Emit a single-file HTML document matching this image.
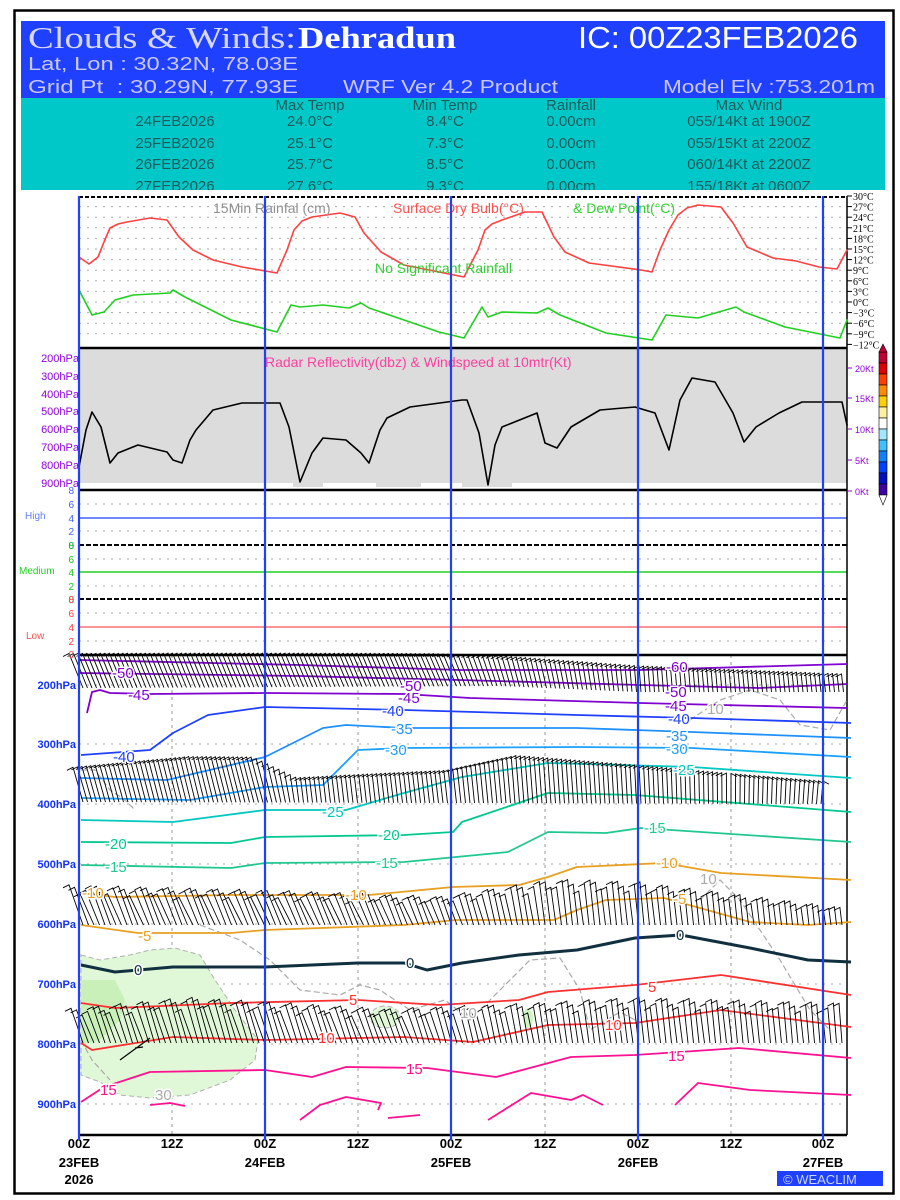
<!DOCTYPE html>
<html><head><meta charset="utf-8"><style>
html,body{margin:0;padding:0;background:#fff;}
svg{display:block;}
text{font-family:"Liberation Sans",sans-serif;}
.lb{paint-order:stroke;stroke:#fff;stroke-width:3px;}
</style></head><body>
<svg id="s" width="900" height="1200" viewBox="0 0 900 1200" xmlns="http://www.w3.org/2000/svg">
<rect x="0" y="0" width="900" height="1200" fill="#fff"/>
<rect x="14.5" y="10.5" width="879" height="1183" fill="none" stroke="#000" stroke-width="2.5"/>
<rect x="21" y="21" width="864" height="77" fill="#2040ff"/>
<rect x="21" y="98" width="864" height="92" fill="#00c8c8"/>
<text x="28" y="48" font-size="31" fill="#d8d8ff" style="font-family:'Liberation Serif',serif" textLength="268" lengthAdjust="spacingAndGlyphs">Clouds &amp; Winds:</text>
<text x="298" y="48" font-size="31" fill="#fff" font-weight="bold" style="font-family:'Liberation Serif',serif" textLength="158" lengthAdjust="spacingAndGlyphs">Dehradun</text>
<text x="578" y="48" font-size="31" fill="#fff" textLength="280" lengthAdjust="spacingAndGlyphs">IC: 00Z23FEB2026</text>
<text x="28" y="70" font-size="18" fill="#c8c8ff" textLength="270" lengthAdjust="spacingAndGlyphs">Lat, Lon : 30.32N, 78.03E</text>
<text x="28" y="93" font-size="18" fill="#c8c8ff" textLength="270" lengthAdjust="spacingAndGlyphs">Grid Pt&#160;&#160;: 30.29N, 77.93E</text>
<text x="343" y="93" font-size="18" fill="#c8c8ff" textLength="215" lengthAdjust="spacingAndGlyphs">WRF Ver 4.2 Product</text>
<text x="663" y="93" font-size="18" fill="#c8c8ff" textLength="212" lengthAdjust="spacingAndGlyphs">Model Elv :753.201m</text>
<g font-size="15" fill="#1e5a5a" text-anchor="middle">
<text x="310" y="110">Max Temp</text><text x="445" y="110">Min Temp</text><text x="571" y="110">Rainfall</text><text x="749" y="110">Max Wind</text>
<text x="175" y="126">24FEB2026</text><text x="310" y="126">24.0°C</text><text x="445" y="126">8.4°C</text><text x="571" y="126">0.00cm</text><text x="749" y="126">055/14Kt at 1900Z</text>
<text x="175" y="148">25FEB2026</text><text x="310" y="148">25.1°C</text><text x="445" y="148">7.3°C</text><text x="571" y="148">0.00cm</text><text x="749" y="148">055/15Kt at 2200Z</text>
<text x="175" y="169">26FEB2026</text><text x="310" y="169">25.7°C</text><text x="445" y="169">8.5°C</text><text x="571" y="169">0.00cm</text><text x="749" y="169">060/14Kt at 2200Z</text>
<text x="175" y="191">27FEB2026</text><text x="310" y="191">27.6°C</text><text x="445" y="191">9.3°C</text><text x="571" y="191">0.00cm</text><text x="749" y="191">155/18Kt at 0600Z</text>
</g>
<rect x="21" y="190" width="864" height="5" fill="#fff"/>
<g id="grid"></g>
<rect x="79" y="348" width="768" height="135" fill="#dcdcdc"/>
<rect x="293" y="483" width="30" height="4" fill="#dcdcdc"/>
<rect x="376" y="483" width="45" height="4" fill="#dcdcdc"/>
<rect x="462" y="483" width="50" height="4" fill="#dcdcdc"/>
<g id="dyn"></g>
<g fill="none" stroke-linejoin="round" stroke-linecap="round">
<polyline stroke="#ff4040" stroke-width="1.6" points="79,257 89,264 98,257 104,242 110,228 118,224 127,222 150,218 167,220 179,237 193,250 213,260 242,267 277,273 287,250 294,230 302,221 312,217 340,213 355,217 364,233 381,252 404,265 439,272 464,277 478,250 485,230 492,224 502,220 525,212 542,212 554,237 565,252 589,263 641,270 652,272 660,250 669,230 678,215 687,208 698,205 721,207 733,223 747,247 773,258 796,261 819,267 837,269 847,250"/>
<polyline stroke="#20d020" stroke-width="1.6" points="79,290 92,315 104,312 115,300 133,295 170,293 173,290 185,297 231,320 277,332 291,305 300,307 323,305 349,308 361,303 369,308 404,320 439,332 464,338 482,307 488,317 502,312 537,313 548,308 560,315 606,333 652,340 666,315 698,318 736,307 744,312 785,327 840,338 847,320"/>
<polyline stroke="#000" stroke-width="1.6" points="79,467 86,430 92,412 101,427 110,463 118,453 138,445 167,452 173,460 182,463 190,440 196,430 213,410 242,403 280,403 289,427 300,482 312,453 323,438 346,440 361,453 369,463 380,430 387,418 410,407 462,400 467,400 479,433 488,485 495,445 502,427 537,413 545,443 557,448 571,427 600,410 635,407 655,413 669,450 680,400 692,378 715,382 733,413 744,442 756,427 779,413 802,402 842,402 847,425"/>
</g>
<g font-size="14">
<text x="213" y="213" fill="#909090">15Min Rainfal (cm)</text>
<text x="393" y="213" fill="#ff5050">Surface Dry Bulb(°C)</text>
<text x="573" y="213" fill="#30d030">&amp; Dew Point(°C)</text>
<text x="375" y="273" fill="#30d030">No Significant Rainfall</text>
<text x="265" y="367" fill="#ff40a0">Radar Reflectivity(dbz) &amp; Windspeed at 10mtr(Kt)</text>
</g>
<path d="M81,955 L100,960 130,955 150,950 175,948 200,955 215,980 235,1010 258,1040 255,1060 230,1080 190,1095 150,1098 120,1095 100,1082 81,1075Z" fill="#e0f8d8" stroke="#b0b0b0" stroke-dasharray="5,3"/>
<path d="M81,980 L115,980 125,1000 120,1020 100,1040 81,1045Z" fill="#c8f0b8"/>
<ellipse cx="385" cy="1017" rx="15" ry="11" fill="#e0f8d8" stroke="#b0b0b0" stroke-dasharray="5,3"/>
<ellipse cx="528" cy="1018" rx="5" ry="10" fill="#d0f4c4"/>
<g fill="none" stroke="#aaa" stroke-width="1.2" stroke-dasharray="6,3">
<path d="M81,1040 L92,1060 110,1080"/>
<path d="M200,925 L240,940 270,960 300,990 340,995 360,985 380,990 410,1010 445,1000 470,1020 500,990 530,960 560,958 580,990 590,1030 620,1012 635,1020"/>
<path d="M700,900 L720,880 740,900 760,930 780,960 810,1010 830,1030"/>
<path d="M690,720 L720,700 750,690 780,700 800,725 830,730 847,700"/>
<path d="M81,770 L95,770 110,790 125,800 135,810"/>
</g>
<g fill="none" stroke-linejoin="round" stroke-width="1.8">
<polyline stroke="#8000d0" points="79,660 300,665 460,670 640,670 847,664"/>
<polyline stroke="#8000d0" points="79,673 300,676 460,680 640,685 760,688 847,684"/>
<polyline stroke="#8000d0" points="87,713 92,692 100,690 110,693 150,694 265,693 404,694 470,698 640,703 847,708"/>
<polyline stroke="#2040ff" points="81,755 150,750 173,733 208,715 265,707 404,710 577,715 692,718 851,723"/>
<polyline stroke="#1e90ff" points="81,778 167,780 265,757 323,728 346,725 404,728 577,728 692,732 851,738"/>
<polyline stroke="#1aa0ff" points="81,798 190,800 265,787 323,785 358,750 404,748 577,747 692,748 851,757"/>
<polyline stroke="#00c8c0" points="81,820 173,822 265,810 346,810 404,793 462,777 548,763 692,767 851,778"/>
<polyline stroke="#00c890" points="81,842 231,843 265,837 404,835 453,832 462,822 548,793 635,795 851,812"/>
<polyline stroke="#20c890" points="81,865 231,868 265,863 404,862 508,852 548,832 606,833 641,828 851,842"/>
<polyline stroke="#e8a020" points="81,893 115,897 231,895 369,895 453,887 519,885 548,877 577,867 664,863 721,873 851,880"/>
<polyline stroke="#e8a020" points="81,925 138,933 231,933 265,930 404,925 456,920 554,920 577,910 606,900 664,898 750,922 808,925 851,922"/>
<polyline stroke="#103040" stroke-width="3" points="81,965 115,972 173,967 265,967 358,963 404,963 427,970 462,963 519,955 577,950 635,938 681,935 750,948 808,960 851,962"/>
<polyline stroke="#ff3030" points="81,1003 115,1008 231,1003 358,1000 439,1005 519,1000 548,992 635,985 721,975 851,995"/>
<polyline stroke="#ff3030" points="81,1043 92,1050 173,1037 265,1040 404,1037 473,1042 548,1025 635,1023 721,1010 851,1027"/>
<polyline stroke="#ff1090" points="81,1102 104,1087 150,1072 265,1070 312,1077 346,1067 427,1068 496,1077 571,1057 635,1055 739,1048 851,1058"/>
<polyline stroke="#ff1090" points="300,1120 320,1105 346,1097 381,1103 378,1110"/>
<polyline stroke="#ff1090" points="488,1120 531,1093 571,1100 583,1095 603,1105"/>
<polyline stroke="#ff1090" points="675,1105 698,1083 750,1090 851,1095"/>
<polyline stroke="#ff1090" points="388,1118 420,1115"/>
<polyline stroke="#ff1090" points="150,1105 170,1103 185,1106"/>
</g>
<g id="barbs"></g>
<g font-size="15" class="lb">
<text x="112" y="678" fill="#8000d0">-50</text>
<text x="400" y="691" fill="#8000d0">-50</text>
<text x="666" y="672" fill="#8000d0">-60</text>
<text x="665" y="697" fill="#8000d0">-50</text>
<text x="128" y="700" fill="#8000d0">-45</text>
<text x="398" y="703" fill="#8000d0">-45</text>
<text x="665" y="711" fill="#8000d0">-45</text>
<text x="113" y="762" fill="#2040ff">-40</text>
<text x="382" y="716" fill="#2040ff">-40</text>
<text x="668" y="724" fill="#2040ff">-40</text>
<text x="391" y="734" fill="#1e90ff">-35</text>
<text x="666" y="741" fill="#1e90ff">-35</text>
<text x="385" y="755" fill="#1aa0ff">-30</text>
<text x="666" y="754" fill="#1aa0ff">-30</text>
<text x="322" y="817" fill="#00c8c0">-25</text>
<text x="673" y="775" fill="#00c8c0">-25</text>
<text x="105" y="849" fill="#00c890">-20</text>
<text x="378" y="840" fill="#00c890">-20</text>
<text x="105" y="872" fill="#20c890">-15</text>
<text x="376" y="868" fill="#20c890">-15</text>
<text x="644" y="833" fill="#20c890">-15</text>
<text x="82" y="898" fill="#e8a020">-10</text>
<text x="345" y="900" fill="#e8a020">-10</text>
<text x="656" y="868" fill="#e8a020">-10</text>
<text x="138" y="941" fill="#e8a020">-5</text>
<text x="673" y="904" fill="#e8a020">-5</text>
<text x="134" y="975" fill="#103040">0</text>
<text x="406" y="968" fill="#103040">0</text>
<text x="676" y="940" fill="#103040">0</text>
<text x="349" y="1005" fill="#ff3030">5</text>
<text x="648" y="992" fill="#ff3030">5</text>
<text x="318" y="1043" fill="#ff3030">10</text>
<text x="605" y="1030" fill="#ff3030">10</text>
<text x="100" y="1095" fill="#ff1090">15</text>
<text x="406" y="1074" fill="#ff1090">15</text>
<text x="668" y="1061" fill="#ff1090">15</text>
<text x="155" y="1100" fill="#aaa">30</text>
<text x="700" y="884" fill="#aaa">10</text>
<text x="707" y="714" fill="#aaa">10</text>
<text x="460" y="1018" fill="#aaa">10</text>
</g>
<g id="cb"></g>
<g font-size="9" fill="#9000e0">
<text x="855" y="372">20Kt</text><text x="855" y="402">15Kt</text><text x="855" y="433">10Kt</text><text x="855" y="464">5Kt</text><text x="855" y="495">0Kt</text>
</g>
<g font-size="11" fill="#9000e0" text-anchor="end">
<text x="79" y="362">200hPa</text><text x="79" y="380">300hPa</text><text x="79" y="398">400hPa</text><text x="79" y="415">500hPa</text><text x="79" y="433">600hPa</text><text x="79" y="451">700hPa</text><text x="79" y="469">800hPa</text><text x="79" y="487">900hPa</text>
</g>
<g font-size="11" fill="#1030ff" text-anchor="end" font-weight="bold">
<text x="76" y="689">200hPa</text><text x="76" y="748">300hPa</text><text x="76" y="808">400hPa</text><text x="76" y="868">500hPa</text><text x="76" y="928">600hPa</text><text x="76" y="988">700hPa</text><text x="76" y="1048">800hPa</text><text x="76" y="1108">900hPa</text>
</g>
<g font-size="10" text-anchor="end">
<g fill="#4060ff"><text x="74" y="494">8</text><text x="74" y="508">6</text><text x="74" y="522">4</text><text x="74" y="535">2</text><text x="74" y="549">0</text></g>
<g fill="#20c020"><text x="74" y="549">8</text><text x="74" y="563">6</text><text x="74" y="576">4</text><text x="74" y="590">2</text><text x="74" y="603">0</text></g>
<g fill="#ff4040"><text x="74" y="603">8</text><text x="74" y="617">6</text><text x="74" y="631">4</text><text x="74" y="645">2</text><text x="74" y="658">0</text></g>
</g>
<text x="25" y="519" font-size="10" fill="#6080ff">High</text>
<text x="19" y="574" font-size="10" fill="#20d020">Medium</text>
<text x="26" y="639" font-size="10" fill="#ff5050">Low</text>
<g font-size="13" text-anchor="middle" fill="#000" font-weight="bold">
<text x="79" y="1148">00Z</text><text x="79" y="1167">23FEB</text><text x="79" y="1184">2026</text>
<text x="172" y="1148">12Z</text>
<text x="265" y="1148">00Z</text><text x="265" y="1167">24FEB</text>
<text x="358" y="1148">12Z</text>
<text x="451" y="1148">00Z</text><text x="451" y="1167">25FEB</text>
<text x="545" y="1148">12Z</text>
<text x="638" y="1148">00Z</text><text x="638" y="1167">26FEB</text>
<text x="731" y="1148">12Z</text>
<text x="823" y="1148">00Z</text><text x="823" y="1167">27FEB</text>
</g>
<rect x="777" y="1171" width="106" height="15" fill="#2040ff"/>
<text x="783" y="1184" font-size="13" fill="#c8d8ff">© WEACLIM</text>
</svg>
<script>
(function(){
var NS="http://www.w3.org/2000/svg";
function el(p,t,a){var e=document.createElementNS(NS,t);for(var k in a)e.setAttribute(k,a[k]);p.appendChild(e);return e;}
var g=document.getElementById('grid'), d=document.getElementById('dyn'), b=document.getElementById('barbs');
var dot={stroke:"#aaa","stroke-width":1,"stroke-dasharray":"2,6",fill:"none"};
var temps=[30,27,24,21,18,15,12,9,6,3,0,-3,-6,-9,-12];
for(var i=0;i<temps.length;i++){var y=196+i*10.6;
 if(i>0&&i<14)el(g,'line',Object.assign({x1:79,x2:847,y1:y,y2:y},dot));
 el(g,'line',{x1:847,x2:852,y1:y,y2:y,stroke:"#000"});
 var t=el(g,'text',{x:853,y:y+4,"font-size":"10",fill:"#000",style:"font-family:'Liberation Serif',serif"});t.textContent=(temps[i]<0?'\u2212'+(-temps[i]):temps[i])+'°C';}
el(g,'line',{x1:79,x2:847,y1:197,y2:197,stroke:"#000","stroke-width":2,"stroke-dasharray":"4,2"});
[504,531,559,586,613,641].forEach(function(y){el(g,'line',Object.assign({x1:79,x2:847,y1:y,y2:y},dot));});
[685,744,804,864,924,984,1044,1104].forEach(function(y){el(d,'line',Object.assign({x1:79,x2:847,y1:y,y2:y},dot));});
[172,358,545,731].forEach(function(x){el(d,'line',{x1:x,x2:x,y1:655,y2:1135,stroke:"#999","stroke-dasharray":"3,4"});});
el(d,'line',{x1:79,x2:847,y1:518,y2:518,stroke:"#4060ff","stroke-width":1.5});
el(d,'line',{x1:79,x2:847,y1:572,y2:572,stroke:"#20d020","stroke-width":1.5});
el(d,'line',{x1:79,x2:847,y1:627,y2:627,stroke:"#ff5050","stroke-width":1.2});
el(d,'line',{x1:79,x2:847,y1:545,y2:545,stroke:"#000","stroke-width":2,"stroke-dasharray":"5,2"});
el(d,'line',{x1:79,x2:847,y1:599,y2:599,stroke:"#000","stroke-width":2,"stroke-dasharray":"5,2"});
el(d,'line',{x1:79,x2:847,y1:490,y2:490,stroke:"#000","stroke-width":2.5});
el(d,'line',{x1:79,x2:847,y1:348,y2:348,stroke:"#000","stroke-width":2.5});
el(d,'line',{x1:79,x2:847,y1:655,y2:655,stroke:"#000","stroke-width":2.5});
el(d,'line',{x1:79,x2:847,y1:1135,y2:1135,stroke:"#000","stroke-width":2.5});
el(d,'line',{x1:847,x2:847,y1:196,y2:1135,stroke:"#000","stroke-width":1.5});
[79,265,451,638,823].forEach(function(x){el(document.getElementById('s'),'line',{x1:x,x2:x,y1:196,y2:1140,stroke:"#2040ff","stroke-width":2.2});});
var p="";
function band(x0,x1,step,base,h,sl){for(var x=x0;x<=x1;x+=step){var B=base(x),H=h(x)*(0.85+0.3*Math.abs(Math.sin(x*0.7))),S=sl(x);var tx=x-S,ty=B-H;p+="M"+x.toFixed(1)+","+B.toFixed(1)+"L"+tx.toFixed(1)+","+ty.toFixed(1)+"l"+(S>0?-6:6)+",3";}}
function lin(a){return function(x){for(var i=0;i<a.length-1;i++){if(x<=a[i+1][0]){var f=(x-a[i][0])/(a[i+1][0]-a[i][0]);return a[i][1]+f*(a[i+1][1]-a[i][1]);}}return a[a.length-1][1];};}
band(83,845,4.5,lin([[81,688],[500,686],[640,692],[847,692]]),lin([[81,30],[450,30],[540,28],[640,26],[847,20]]),lin([[81,14],[450,14],[520,8],[640,2],[847,2]]));
band(83,825,4.5,lin([[81,802],[847,804]]),lin([[81,30],[200,40],[265,40],[300,22],[450,30],[520,45],[640,38],[820,25]]),lin([[81,10],[265,12],[300,3],[500,4],[640,2],[820,-2]]));
band(83,845,5.5,lin([[81,925],[847,925]]),lin([[81,35],[300,30],[450,25],[560,40],[640,38],[847,15]]),lin([[81,14],[300,14],[450,10],[560,5],[847,2]]));
band(83,847,5.5,lin([[81,1043],[847,1043]]),lin([[81,30],[200,40],[400,30],[540,35],[640,40],[847,35]]),lin([[81,12],[400,12],[540,6],[847,3]]));
el(b,'path',{d:p,stroke:"#000","stroke-width":0.9,fill:"none"});
el(b,'path',{d:"M120,1060 L150,1038 M135,1048 l8,-1",stroke:"#000","stroke-width":1.2,fill:"none"});
var cols=["#c00030","#e00000","#ff4000","#ff8c00","#ffd000","#fff0a0","#ffffff","#a0e8ff","#40c0ff","#1080ff","#0040ff","#0010c0","#4000a0"];
var cb=document.getElementById('cb');
for(var i=0;i<cols.length;i++)el(cb,'rect',{x:879,y:352+i*11,width:8,height:11,fill:cols[i],stroke:"#000","stroke-width":0.6});
el(cb,'path',{d:"M879,495 L883,505 L887,495Z",fill:"#fff",stroke:"#000","stroke-width":0.6});
el(cb,'path',{d:"M879,352 L883,344 L887,352Z",fill:"#c00030",stroke:"#000","stroke-width":0.6});
[368,398,429,460,491].forEach(function(y){el(cb,'line',{x1:847,x2:852,y1:y,y2:y,stroke:"#9000e0"});});
})();
</script>
</body></html>
